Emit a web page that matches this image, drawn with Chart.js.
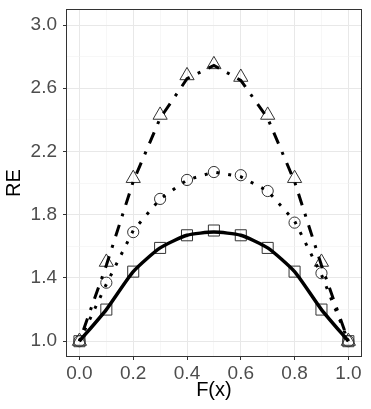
<!DOCTYPE html>
<html>
<head>
<meta charset="utf-8">
<script src="https://cdn.jsdelivr.net/npm/chart.js@4/dist/chart.umd.min.js"></script>
<style>
  html, body { margin: 0; padding: 0; background: #fff; }
  canvas { display: block; }
</style>
</head>
<body>
<canvas id="reChart" width="371" height="409"></canvas>
<script>
// F(x) positions
const fx = [0.0, 0.1, 0.2, 0.3, 0.4, 0.5, 0.6, 0.7, 0.8, 0.9, 1.0];

// markers
const reSquare   = [1.00, 1.20, 1.44, 1.59, 1.67, 1.70, 1.67, 1.59, 1.44, 1.20, 1.00];
const reCircle   = [1.00, 1.37, 1.69, 1.90, 2.02, 2.07, 2.05, 1.95, 1.75, 1.43, 1.00];
const reTriangle = [1.00, 1.50, 2.03, 2.43, 2.68, 2.75, 2.67, 2.43, 2.03, 1.50, 1.00];

// lines
const lineSolid   = [1.00, 1.20, 1.44, 1.59, 1.67, 1.69, 1.67, 1.59, 1.44, 1.20, 1.00];
const lineDotted  = [1.00, 1.36, 1.70, 1.90, 2.02, 2.07, 2.04, 1.95, 1.76, 1.42, 1.00];
const lineDotDash = [1.00, 1.48, 2.01, 2.41, 2.66, 2.745, 2.65, 2.41, 2.01, 1.48, 1.00];

// ticks (major ones get labels)
const xTicks = [0.0, 0.1, 0.2, 0.3, 0.4, 0.5, 0.6, 0.7, 0.8, 0.9, 1.0];
const xLabels = [0.0, 0.2, 0.4, 0.6, 0.8, 1.0];
const yTicks = [1.0, 1.2, 1.4, 1.6, 1.8, 2.0, 2.2, 2.4, 2.6, 2.8, 3.0];
const yLabels = [1.0, 1.4, 1.8, 2.2, 2.6, 3.0];

function pts(ys) {
    return fx.map((x, i) => ({ x: x, y: ys[i] }));
}
function isMajor(list, v) {
    return list.some(m => Math.abs(m - v) < 1e-9);
}

const panelBorder = {
    id: 'panelBorder',
    afterDraw(chart) {
        const a = chart.chartArea;
        const c = chart.ctx;
        c.save();
        c.strokeStyle = '#333333';
        c.lineWidth = 1;
        c.strokeRect(Math.round(a.left) + 0.5, Math.round(a.top) + 0.5,
            Math.round(a.right - a.left) - 1, Math.round(a.bottom - a.top) - 1);
        c.restore();
    }
};

const markerColor = '#333333';

function lineSet(ys, dash, width, tension) {
    return {
        data: pts(ys),
        borderColor: '#000000',
        borderWidth: width,
        borderDash: dash,
        borderCapStyle: 'butt',
        tension: tension,
        pointRadius: 0,
        fill: false,
        order: 1
    };
}
function markerSet(ys, style, radius) {
    return {
        data: pts(ys),
        showLine: false,
        pointStyle: style,
        pointRadius: radius,
        pointBorderWidth: 1,
        pointBorderColor: markerColor,
        pointBackgroundColor: 'rgba(0,0,0,0)',
        order: 2
    };
}

function gridColor(list) {
    return ctx => isMajor(list, ctx.tick.value) ? '#e8e8e8' : '#f2f2f2';
}
function gridWidth(list) {
    return ctx => isMajor(list, ctx.tick.value) ? 1 : 0.6;
}
function tickColor(list) {
    return ctx => isMajor(list, ctx.tick.value) ? '#333333' : 'rgba(0,0,0,0)';
}

new Chart(document.getElementById('reChart'), {
    type: 'line',
    data: {
        datasets: [
            lineSet(lineSolid, [], 3.5, 0.2),
            lineSet(lineDotted, [3, 9], 3, 0),
            lineSet(lineDotDash, [3, 9, 12, 9], 3, 0),
            markerSet(reSquare, 'rect', 7.8),
            markerSet(reCircle, 'circle', 5.6),
            markerSet(reTriangle, 'triangle', 8.2)
        ]
    },
    options: {
        responsive: false,
        devicePixelRatio: 1,
        animation: false,
        layout: { padding: { left: 0, top: 3, right: 8, bottom: 0 } },
        plugins: {
            legend: { display: false },
            tooltip: { enabled: false }
        },
        scales: {
            x: {
                type: 'linear',
                min: -0.05,
                max: 1.05,
                afterBuildTicks: s => { s.ticks = xTicks.map(v => ({ value: v })); },
                afterFit: s => { s.height = 52; s.paddingLeft = 0; s.paddingRight = 0; },
                border: { display: false },
                grid: {
                    color: gridColor(xLabels),
                    lineWidth: gridWidth(xLabels),
                    drawTicks: true,
                    tickLength: 3,
                    tickColor: tickColor(xLabels),
                    tickWidth: 1
                },
                ticks: {
                    autoSkip: false,
                    maxRotation: 0,
                    padding: 2,
                    color: '#4d4d4d',
                    font: { family: 'Liberation Sans', size: 19 },
                    callback: v => isMajor(xLabels, v) ? v.toFixed(1) : ''
                },
                title: {
                    display: true,
                    text: 'F(x)',
                    color: '#000000',
                    font: { family: 'Liberation Sans', size: 20 },
                    padding: { top: 0, bottom: 7 }
                }
            },
            y: {
                type: 'linear',
                min: 0.9,
                max: 3.1,
                afterBuildTicks: s => { s.ticks = yTicks.map(v => ({ value: v })); },
                afterFit: s => { s.width = 66; s.paddingTop = 0; s.paddingBottom = 0; },
                border: { display: false },
                grid: {
                    color: gridColor(yLabels),
                    lineWidth: gridWidth(yLabels),
                    drawTicks: true,
                    tickLength: 3,
                    tickColor: tickColor(yLabels),
                    tickWidth: 1
                },
                ticks: {
                    autoSkip: false,
                    padding: 6,
                    color: '#4d4d4d',
                    font: { family: 'Liberation Sans', size: 19 },
                    callback: v => isMajor(yLabels, v) ? v.toFixed(1) : ''
                },
                title: {
                    display: true,
                    text: 'RE',
                    color: '#000000',
                    font: { family: 'Liberation Sans', size: 20 },
                    padding: { top: 2, bottom: 0 }
                }
            }
        }
    },
    plugins: [panelBorder]
});
</script>
</body>
</html>
